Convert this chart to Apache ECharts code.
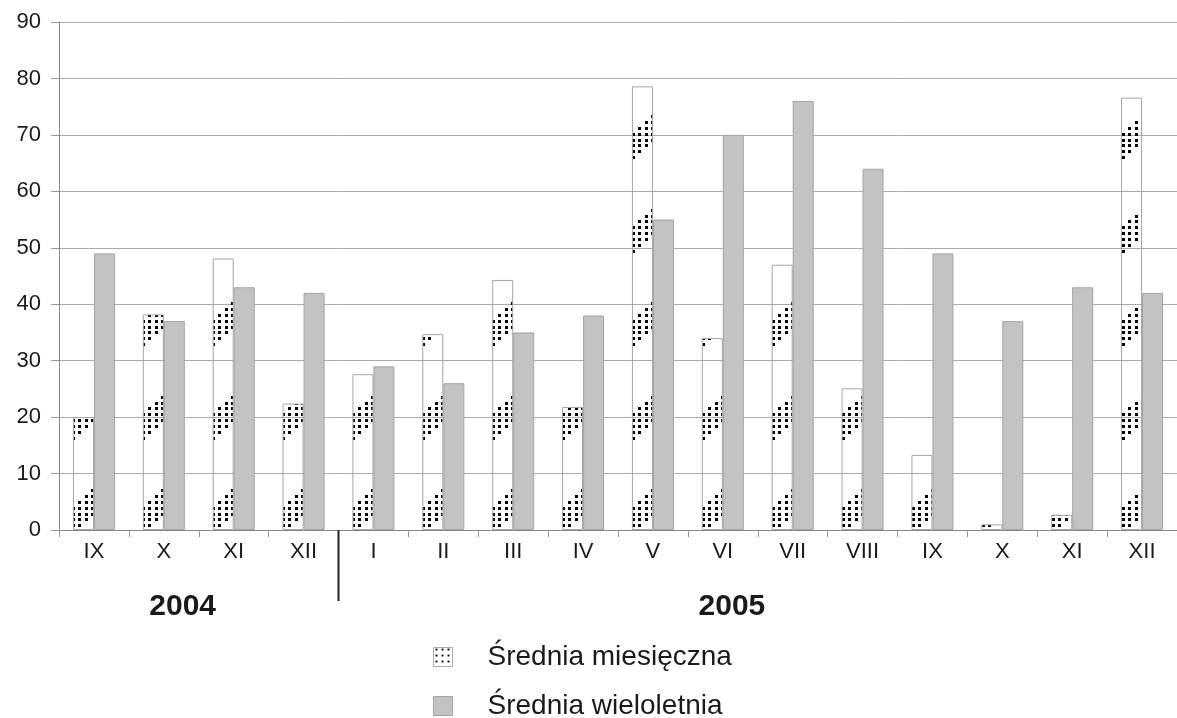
<!DOCTYPE html>
<html><head><meta charset="utf-8">
<script src="https://cdn.jsdelivr.net/npm/echarts@6/dist/echarts.min.js"></script>
<style>html,body{margin:0;padding:0;background:#fff}#c{width:1177px;height:718px}</style>
</head><body><div id="c"></div>
<script>
// ---- data ----
const months = ['IX','X','XI','XII','I','II','III','IV','V','VI','VII','VIII','IX','X','XI','XII'];
const years = ['2004', '2005'];
const seriesNames = ['Średnia miesięczna', 'Średnia wieloletnia'];
const monthlyMean = [20, 38.2, 48.1, 22.4, 27.6, 34.7, 44.3, 21.8, 78.6, 34, 47, 25.1, 13.3, 1, 2.7, 76.6];
const longTermMean = [49, 37, 43, 42, 29, 26, 35, 38, 55, 70, 76, 64, 49, 37, 43, 42];
const yTicks = {min: 0, max: 90, interval: 10};

// ---- layout / style ----
const GRID_LEFT = 59, GRID_TOP = 22, CAT_W = 70, PLOT_H = 508;
const BAR_W = 21;
const FONT = '"Liberation Sans", Arial, sans-serif';

function bandPattern() {
  // diagonal band of dots, repeating vertically, aligned to the white bars
  const period = 93.5, tileH = 187;
  const cv = document.createElement('canvas');
  cv.width = CAT_W; cv.height = tileH;
  const ctx = cv.getContext('2d');
  ctx.fillStyle = '#000';
  const zeroY = GRID_TOP + PLOT_H;
  const barLeft = (GRID_LEFT + CAT_W / 2 - BAR_W) % CAT_W;
  const bases = [];
  for (let k = 0; k < 2; k++) bases.push(((zeroY + 1.5 - k * period) % tileH + tileH) % tileH);
  bases.forEach(b => {
    for (let c = 0; c < 4; c++) {
      for (let r = c; r < c + 5; r++) {
        const x = Math.round(barLeft - 1 + 6.27 * c);
        let y = Math.round(b - 5.83 * r - 1.5);
        y = ((y % tileH) + tileH) % tileH;
        ctx.fillRect(x, y, 3, 3);
      }
    }
  });
  return {image: cv, repeat: 'repeat'};
}
function iconPattern() {
  const cv = document.createElement('canvas');
  cv.width = 6; cv.height = 6;
  const ctx = cv.getContext('2d');
  ctx.fillStyle = '#fff'; ctx.fillRect(0, 0, 6, 6);
  ctx.fillStyle = '#111'; ctx.fillRect(2, 1, 2, 2);
  return {image: cv, repeat: 'repeat'};
}

const legendText = {fontFamily: FONT, fontSize: 28, color: '#1a1a1a', padding: [0, 0, 0, 30]};
const chart = echarts.init(document.getElementById('c'), null, {renderer: 'canvas'});
const option = {
  animation: false,
  backgroundColor: '#fff',
  textStyle: {fontFamily: FONT},
  grid: {left: GRID_LEFT, top: GRID_TOP, width: CAT_W * months.length, height: PLOT_H, containLabel: false},
  legend: [
    {left: 433, top: 643, padding: 0, itemWidth: 19, itemHeight: 19, textStyle: legendText,
     data: [{name: seriesNames[0], icon: 'rect', itemStyle: {color: iconPattern(), borderColor: '#aaa', borderWidth: 1}}]},
    {left: 433, top: 692, padding: 0, itemWidth: 19, itemHeight: 19, textStyle: legendText,
     data: [{name: seriesNames[1], icon: 'rect', itemStyle: {color: '#c3c3c3', borderColor: '#a5a5a5', borderWidth: 1}}]}
  ],
  xAxis: {
    type: 'category', data: months,
    axisLine: {lineStyle: {color: '#888', width: 1}},
    axisTick: {show: true, length: 7, lineStyle: {color: '#999'}},
    axisLabel: {fontFamily: FONT, fontSize: 22, color: '#1a1a1a', margin: 11, interval: 0}
  },
  yAxis: {
    type: 'value', min: yTicks.min, max: yTicks.max, interval: yTicks.interval,
    axisLine: {show: true, lineStyle: {color: '#888', width: 1}},
    axisTick: {show: true, length: 8, lineStyle: {color: '#999'}},
    axisLabel: {fontFamily: FONT, fontSize: 22, color: '#1a1a1a', margin: 18},
    splitLine: {lineStyle: {color: '#aaa', width: 1}}
  },
  series: [
    {name: seriesNames[0], type: 'bar', data: monthlyMean, barWidth: BAR_W, barGap: '0%',
     itemStyle: {color: bandPattern(), borderColor: '#a6a6a6', borderWidth: 1}},
    {name: seriesNames[1], type: 'bar', data: longTermMean, barWidth: BAR_W, barGap: '0%',
     itemStyle: {color: '#c3c3c3', borderColor: '#a3a3a3', borderWidth: 1}}
  ]
};
chart.setOption(option);

// annotations: year labels and separator, positioned through the axis scale
function catX(f) {
  const i = Math.floor(f);
  const a = chart.convertToPixel({gridIndex: 0}, [i, 0]);
  const b = chart.convertToPixel({gridIndex: 0}, [i + 1, 0]);
  return a[0] + (b[0] - a[0]) * (f - i);
}
const zeroY = chart.convertToPixel({gridIndex: 0}, [0, 0])[1];
const sepX = catX(3.5);
chart.setOption({
  graphic: [
    {type: 'line', shape: {x1: sepX, y1: zeroY, x2: sepX, y2: zeroY + 71}, style: {stroke: '#222', lineWidth: 2}, z: 10},
    {type: 'text', x: catX(1.27), y: zeroY + 77, style: {text: years[0], font: 'bold 30px ' + FONT, fill: '#1a1a1a', textAlign: 'center', textVerticalAlign: 'middle'}},
    {type: 'text', x: catX(9.13), y: zeroY + 77, style: {text: years[1], font: 'bold 30px ' + FONT, fill: '#1a1a1a', textAlign: 'center', textVerticalAlign: 'middle'}}
  ]
});
</script></body></html>
